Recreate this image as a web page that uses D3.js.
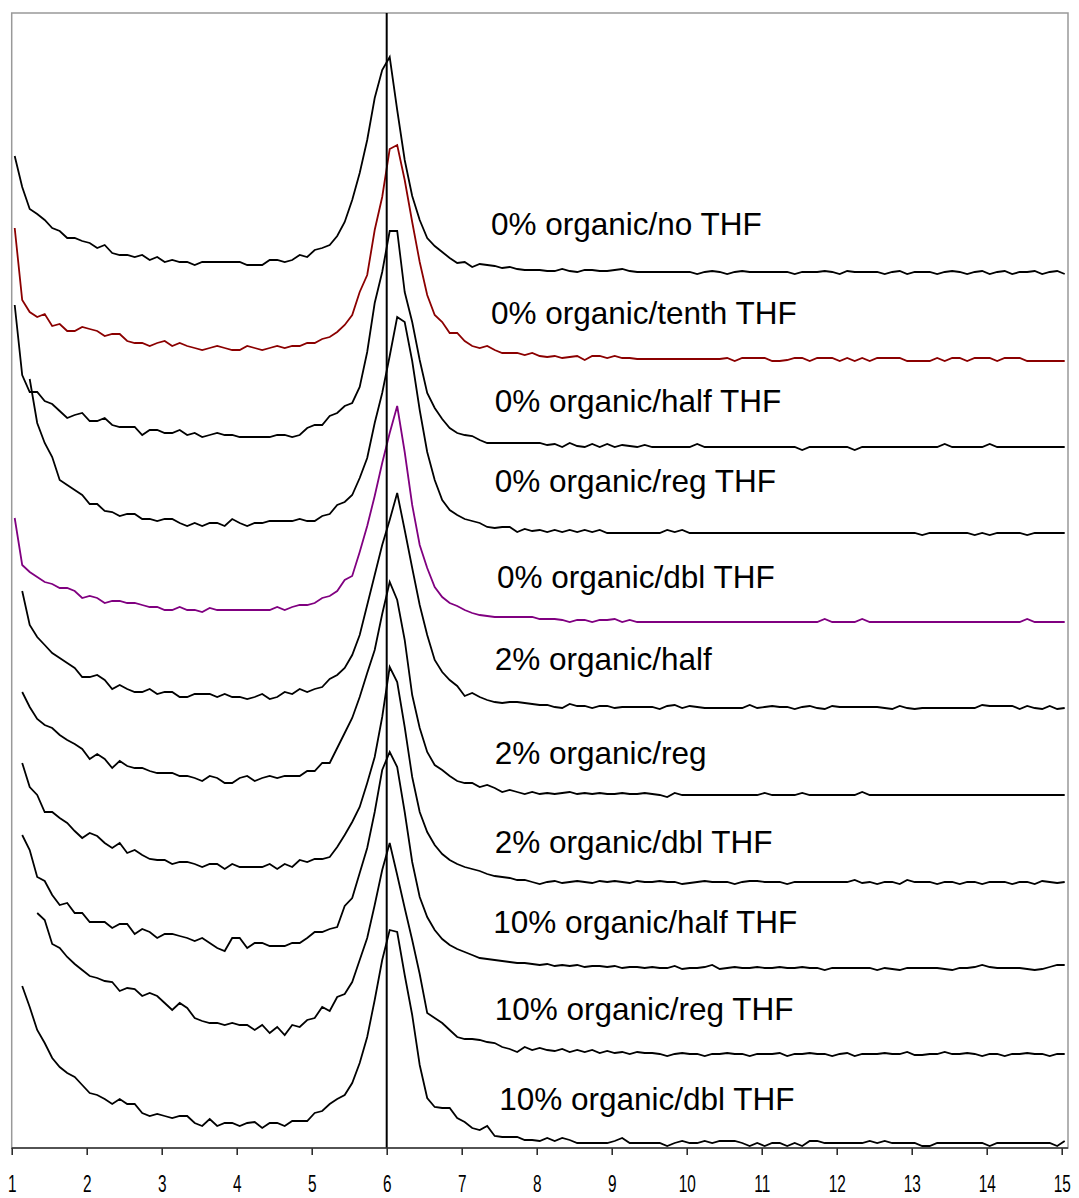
<!DOCTYPE html>
<html>
<head>
<meta charset="utf-8">
<script src="https://cdn.jsdelivr.net/npm/d3@7"></script>
<style>
  body { margin: 0; background: #fff; }
  text { font-family: "Liberation Sans", Arial, sans-serif; }
</style>
</head>
<body>
<svg id="chart" width="1079" height="1198"></svg>
<script>
// run names, top to bottom
var names = ["0% organic/no THF", "0% organic/tenth THF", "0% organic/half THF", "0% organic/reg THF",
  "0% organic/dbl THF", "2% organic/half", "2% organic/reg", "2% organic/dbl THF",
  "10% organic/half THF", "10% organic/reg THF", "10% organic/dbl THF"];
var lineColors = ["#000", "#8b0000", "#000", "#000", "#800080", "#000", "#000", "#000", "#000", "#000", "#000"];

// stacking offset of each trace (signal units)
var offsets = [87.7, 78.9, 70.2, 61.5, 52.6, 44.0, 35.3, 26.6, 18.0, 9.4, 0.8];
// where each name is written: time and height above its trace
var labelAt = [7.39, 7.39, 7.44, 7.44, 7.47, 7.44, 7.44, 7.44, 7.42, 7.44, 7.50];
var labelLift = [3.6, 3.5, 3.4, 4.1, 3.4, 3.8, 3.1, 2.9, 3.5, 3.4, 3.0];

var tickValues = [1, 2, 3, 4, 5, 6, 7, 8, 9, 10, 11, 12, 13, 14, 15];
var markerTime = 6;

// detector signal, sampled every 0.1 min from 1.04 min
var s1 = [11.5, 8.4, 6.2, 5.7, 5.1, 4.3, 4.0, 3.3, 3.3, 3.0,
  2.8, 2.3, 2.6, 1.8, 1.6, 1.6, 1.4, 1.6, 1.1, 1.4,
  0.9, 1.1, 0.9, 0.9, 0.6, 0.9, 0.9, 0.9, 0.9, 0.9,
  0.9, 0.6, 0.6, 0.6, 1.1, 1.1, 0.9, 1.1, 1.6, 1.4,
  2.1, 2.3, 2.6, 3.5, 4.9, 7.1, 9.8, 13.1, 17.3, 20.1,
  21.4, 16.1, 11.1, 7.5, 5.1, 3.3, 2.5, 1.9, 1.3, 0.8,
  0.9, 0.4, 0.7, 0.6, 0.5, 0.3, 0.4, 0.2, 0.1, 0.1,
  0.1, 0, 0, 0.2, 0, -0.1, 0.1, 0.1, 0, 0,
  0.1, 0.2, 0, -0.1, -0.1, -0.1, -0.1, -0.1, -0.1, -0.1,
  -0.1, -0.3, -0.1, 0, -0.1, -0.3, -0.1, 0, -0.1, -0.1,
  -0.1, -0.1, -0.1, -0.1, -0.3, -0.1, -0.1, -0.1, 0, -0.1,
  -0.3, 0, -0.1, -0.1, -0.1, -0.1, -0.3, -0.1, 0, -0.3,
  -0.1, -0.1, -0.1, -0.3, -0.1, 0, -0.1, -0.3, -0.1, 0,
  -0.3, -0.1, 0, -0.3, -0.1, -0.1, 0, -0.3, -0.1, 0,
  -0.3];
var s2 = [13.1, 5.9, 4.7, 4.2, 4.5, 3.3, 3.5, 2.8, 2.8, 3.2,
  3.0, 2.8, 2.3, 2.5, 2.5, 1.8, 1.6, 1.6, 1.3, 1.6,
  1.8, 1.3, 1.6, 1.3, 1.1, 0.9, 1.1, 1.3, 1.1, 0.9,
  0.9, 1.3, 1.1, 0.9, 1.1, 1.3, 1.1, 1.3, 1.3, 1.6,
  1.6, 2.0, 2.2, 2.7, 3.4, 4.4, 6.7, 8.4, 12.9, 16.2,
  21.0, 21.4, 17.9, 13.7, 9.7, 6.4, 4.4, 3.7, 2.6, 2.6,
  1.8, 1.3, 1.1, 1.3, 0.9, 0.6, 0.6, 0.6, 0.4, 0.6,
  0.3, 0.2, 0.3, 0.1, 0.2, 0.3, -0.1, 0.3, 0.3, 0.1,
  0.3, 0.1, 0.1, 0, 0, 0, 0, 0, 0, 0,
  0, 0, 0, 0, 0, 0.1, -0.2, 0.1, 0.1, 0.1,
  0.1, -0.2, -0.2, -0.1, 0.1, 0.1, -0.2, 0.1, 0.1, 0.1,
  -0.2, 0.1, -0.2, 0.1, -0.2, 0.1, 0.1, 0.1, 0.1, -0.2,
  -0.2, -0.2, -0.2, 0.1, -0.2, 0.1, 0.1, -0.2, 0.1, 0.1,
  0.1, -0.2, 0.1, 0.1, 0.1, -0.2, -0.2, -0.2, -0.2, -0.2,
  -0.2];
var s3 = [14.1, 7.1, 5.4, 5.4, 4.5, 4.2, 3.5, 2.8, 3.1, 3.3,
  2.5, 2.5, 2.8, 2.1, 1.9, 1.9, 1.9, 1.1, 1.6, 1.6,
  1.3, 1.3, 1.6, 1.1, 1.3, 0.9, 1.1, 1.3, 1.1, 1.1,
  0.9, 0.9, 0.9, 0.9, 0.9, 1.1, 1.1, 0.9, 1.1, 1.8,
  2.1, 2.1, 3.0, 3.3, 4.0, 4.3, 5.9, 9.4, 14.3, 17.4,
  21.5, 21.5, 15.4, 12.4, 8.6, 5.3, 3.8, 2.7, 1.8, 1.3,
  1.1, 1.0, 0.6, 0.3, 0.3, 0.3, 0.3, 0.3, 0.3, 0.3,
  0.3, 0.1, 0.2, -0.1, 0.3, 0, -0.1, 0.2, -0.1, 0.2,
  -0.1, 0.1, 0, -0.1, 0.1, -0.1, -0.1, -0.1, -0.1, -0.1,
  -0.1, 0.2, -0.1, -0.1, -0.1, -0.1, -0.1, -0.1, -0.1, -0.1,
  -0.1, -0.1, -0.1, -0.1, -0.1, -0.4, -0.1, -0.1, -0.1, -0.1,
  -0.1, -0.1, -0.4, -0.1, -0.1, -0.1, -0.1, -0.1, -0.1, -0.1,
  -0.1, -0.1, -0.1, -0.1, 0.2, -0.1, -0.1, -0.1, -0.1, -0.1,
  0.2, -0.1, -0.1, -0.1, -0.1, -0.1, -0.1, -0.1, -0.1, -0.1,
  -0.1];
var s4 = [null, null, 15.4, 11.0, 9.0, 7.6, 5.3, 4.8, 4.3, 3.8,
  2.9, 2.9, 2.2, 2.1, 1.7, 1.9, 1.9, 1.4, 1.4, 1.2,
  1.4, 1.4, 1.0, 0.7, 1.0, 0.7, 1.0, 1.0, 0.7, 1.4,
  1.0, 0.7, 1.0, 1.0, 1.2, 1.2, 1.2, 1.2, 1.4, 1.2,
  1.2, 1.7, 1.9, 2.8, 3.1, 3.8, 5.5, 7.5, 11.0, 14.0,
  17.7, 21.6, 21.1, 17.2, 12.3, 8.1, 5.3, 3.3, 2.3, 1.8,
  1.4, 1.2, 1.0, 0.6, 0.5, 0.6, 0.6, 0.1, 0.4, 0.2,
  0.3, 0.1, 0.3, 0.1, 0.3, 0.1, 0.3, 0.1, 0.3, 0,
  0, 0, 0, 0, 0, 0, 0, 0.3, 0.1, 0.3,
  0, 0, 0, 0, 0, 0, 0, 0, 0, 0,
  0, 0, 0, 0, 0, 0, 0, 0, 0, 0,
  0, 0, 0, 0, 0, 0, 0, 0, 0, 0,
  0, -0.2, 0, 0, 0, 0, 0, 0, -0.2, 0,
  -0.2, 0, 0, 0, 0, -0.2, 0, 0, 0, 0,
  0];
var s5 = [10.4, 5.7, 5.0, 4.5, 4.0, 3.8, 3.4, 3.4, 3.1, 2.4,
  2.6, 2.4, 1.9, 2.1, 2.1, 1.9, 1.9, 1.7, 1.5, 1.5,
  1.2, 1.2, 1.5, 1.2, 1.2, 1.0, 1.4, 1.2, 1.2, 1.2,
  1.2, 1.2, 1.2, 1.2, 1.2, 1.5, 1.2, 1.5, 1.7, 1.7,
  1.9, 2.4, 2.6, 3.1, 4.2, 4.6, 7.0, 9.6, 12.6, 15.9,
  18.9, 21.6, 17.0, 11.7, 7.7, 5.4, 3.5, 2.5, 1.9, 1.6,
  1.2, 0.9, 0.7, 0.6, 0.5, 0.5, 0.5, 0.5, 0.5, 0.5,
  0.3, 0.3, 0.3, 0.2, 0, 0.2, 0.2, 0, 0.2, 0.2,
  0.3, 0, 0.2, 0, 0, 0, 0, 0, 0, 0,
  0, 0, 0, 0, 0, 0, 0, 0, 0, 0,
  0, 0, 0, 0, 0, 0, 0, 0, 0.3, 0,
  0, 0, 0, 0.3, 0, 0, 0, 0, 0, 0,
  0, 0, 0, 0, 0, 0, 0, 0, 0, 0,
  0, 0, 0, 0, 0, 0.3, 0, 0, 0, 0,
  0];
var s6 = [null, 11.7, 8.3, 7.1, 6.3, 5.5, 5.0, 4.5, 4.0, 3.1,
  3.1, 3.3, 2.8, 1.9, 2.3, 1.9, 1.6, 1.6, 1.9, 1.4,
  1.6, 1.6, 1.1, 1.1, 1.4, 1.4, 1.4, 1.1, 1.4, 1.1,
  1.1, 0.9, 1.1, 1.4, 0.9, 1.1, 1.6, 1.4, 1.9, 1.6,
  1.9, 2.1, 2.9, 3.3, 4.0, 5.3, 7.3, 10.3, 13.3, 16.3,
  18.8, 21.5, 17.8, 14.0, 10.3, 7.3, 4.8, 3.6, 2.8, 2.2,
  1.2, 1.5, 1.1, 0.8, 0.6, 0.5, 0.6, 0.6, 0.5, 0.4,
  0.3, 0.3, 0.1, 0, 0.4, 0.2, 0.2, 0, 0.2, 0.2,
  0, 0.1, 0.1, 0.1, 0.1, 0.1, -0.1, 0.2, 0.3, 0,
  0.2, 0.1, 0, 0, 0, 0, 0, 0, 0.3, 0,
  0.1, 0.2, 0.1, 0.1, -0.1, 0.1, 0.2, 0, -0.1, 0.2,
  0.1, 0.1, 0.1, 0.1, 0.1, 0.1, 0, -0.1, 0.2, 0,
  -0.1, 0, 0, 0, 0, 0, 0, 0, 0, 0.3,
  0.2, 0.2, 0.2, 0.2, -0.1, 0.2, 0, -0.1, 0.2, -0.1,
  0];
var s7 = [null, 10.3, 8.8, 7.6, 7.0, 6.7, 6.0, 5.5, 5.1, 4.6,
  3.6, 4.1, 3.6, 2.7, 3.4, 2.9, 2.7, 2.7, 2.4, 2.2,
  2.2, 2.2, 1.9, 1.9, 1.7, 1.4, 1.9, 1.7, 1.2, 1.2,
  1.7, 1.9, 1.4, 1.7, 1.9, 1.7, 1.9, 1.9, 1.9, 2.4,
  2.4, 3.2, 3.2, 4.7, 6.2, 7.7, 9.8, 12.2, 14.5, 18.1,
  21.3, 19.5, 15.5, 10.0, 6.7, 4.3, 3.0, 2.5, 1.9, 1.4,
  1.2, 1.2, 0.8, 1.0, 0.7, 0.3, 0.5, 0.3, 0.1, 0.3,
  0.1, 0.2, 0.1, 0.2, 0.3, 0.1, 0.2, 0.1, 0.2, 0.1,
  0.1, 0.2, 0.1, 0.1, 0.2, 0.1, 0, -0.2, 0.2, 0,
  0, 0, 0, 0, 0, 0, 0, 0, 0, 0,
  0.2, 0, 0, 0, 0, 0.2, 0, 0, 0, 0,
  0, 0, 0, 0.3, 0, 0, 0, 0, 0, 0,
  0, 0, 0, 0, 0, 0, 0, 0, 0, 0,
  0, 0, 0, 0, 0, 0, 0, 0, 0, 0,
  0];
var s8 = [null, 11.9, 9.5, 8.7, 7.0, 7.0, 6.4, 5.9, 5.1, 4.4,
  4.9, 4.6, 3.9, 3.4, 3.9, 2.9, 3.2, 2.7, 2.3, 2.2,
  2.2, 1.8, 2.0, 2.0, 1.8, 1.5, 1.8, 1.8, 1.3, 1.8,
  1.5, 1.5, 1.5, 1.5, 1.8, 1.3, 1.8, 1.5, 2.2, 2.0,
  2.3, 2.3, 2.5, 3.5, 4.7, 6.0, 7.5, 9.9, 12.5, 16.5,
  21.5, 20.0, 15.5, 10.5, 7.0, 5.0, 3.7, 2.8, 2.2, 1.8,
  1.5, 1.3, 1.1, 0.8, 0.6, 0.5, 0.4, 0.2, 0.2, 0,
  -0.2, 0, 0.1, -0.1, 0, 0.1, 0, -0.1, 0.1, 0,
  0.1, 0, -0.1, 0.1, 0, 0, 0.1, 0, 0, -0.2,
  -0.1, 0, 0.1, 0, 0, 0, -0.2, 0, 0.1, 0.1,
  0, 0, 0, -0.2, 0, 0, 0, 0, 0, 0,
  0, 0, 0.2, -0.1, 0, -0.2, 0, 0, -0.2, 0.2,
  0, 0, 0, -0.2, 0, 0, -0.2, 0, 0, -0.2,
  0, 0, 0, -0.2, 0, 0, -0.2, 0.1, 0, -0.1,
  0];
var s9 = [null, 13.3, 11.8, 9.1, 8.7, 7.3, 6.3, 6.5, 5.5, 5.5,
  4.6, 4.6, 4.6, 4.0, 4.4, 4.4, 3.4, 3.9, 3.6, 3.0,
  3.4, 3.4, 3.2, 3.0, 2.7, 3.0, 2.5, 2.0, 1.7, 3.0,
  3.0, 2.0, 2.5, 2.5, 2.2, 2.2, 2.2, 2.5, 2.5, 3.0,
  3.6, 3.6, 3.9, 4.1, 6.2, 7.0, 9.5, 12.0, 15.6, 19.8,
  21.6, 20.1, 15.6, 10.6, 7.1, 5.1, 3.8, 2.9, 2.3, 1.9,
  1.6, 1.3, 1.0, 0.9, 0.8, 0.7, 0.6, 0.5, 0.5, 0.4,
  0.3, 0.4, 0.2, 0.3, 0.2, 0.3, 0.1, 0.2, 0.2, 0.1,
  0.2, 0, 0.1, 0.1, 0, 0.1, 0, 0, 0.2, -0.1,
  0, 0, 0.1, 0.3, -0.1, 0, 0.1, 0, 0, 0.1,
  0, 0, 0.1, 0, 0, 0.1, 0, 0, -0.2, 0,
  0, 0, 0, 0, 0, -0.2, 0, -0.1, -0.2, 0,
  0, 0, 0, 0, -0.1, -0.2, 0, 0, 0.1, 0.3,
  0.1, 0, 0, 0, 0, -0.1, -0.2, -0.1, 0.1, 0.3,
  0.3];
var s10 = [null, null, null, 14.1, 13.4, 11.0, 10.6, 9.7, 9.0, 8.4,
  7.8, 7.6, 7.3, 7.2, 6.3, 6.6, 6.5, 5.8, 6.1, 5.8,
  5.1, 4.4, 5.1, 4.6, 3.6, 3.3, 3.1, 3.1, 2.9, 3.1,
  2.9, 2.9, 2.4, 2.9, 2.1, 2.7, 1.9, 2.9, 2.7, 3.4,
  3.6, 4.7, 4.3, 5.7, 6.0, 7.2, 9.4, 11.6, 14.9, 18.4,
  21.1, 17.9, 14.6, 11.4, 8.0, 4.1, 3.6, 3.1, 2.4, 1.7,
  1.5, 1.5, 1.4, 1.2, 1.1, 0.7, 0.5, 0.2, 0.7, 0.4,
  0.6, 0.4, 0.3, 0.5, 0.2, 0.4, 0.2, 0.4, 0.1, 0.3,
  0.1, 0.2, 0, 0.2, 0.1, 0.1, 0, -0.2, 0, 0.1,
  0, 0, -0.2, 0, 0, 0.1, 0, 0, -0.2, 0,
  0, 0, 0.1, -0.2, 0, 0, 0.1, 0, 0, -0.2,
  0, 0.1, -0.2, 0, 0, 0, 0.1, 0, 0, 0.2,
  -0.1, -0.1, 0, 0, 0.2, 0, 0, 0.1, 0, -0.2,
  0, 0, -0.2, 0, 0, 0.1, 0, 0, -0.2, 0,
  0];
var s11 = [null, 15.4, 13.3, 11.0, 9.7, 8.2, 7.3, 6.7, 6.3, 5.5,
  4.7, 4.5, 4.1, 3.6, 4.1, 3.6, 3.6, 2.7, 2.4, 2.6,
  2.4, 2.2, 2.4, 2.4, 1.7, 1.4, 2.1, 1.4, 1.7, 1.7,
  1.4, 1.7, 1.8, 1.2, 1.7, 1.7, 1.4, 1.9, 1.9, 1.9,
  2.7, 2.9, 3.6, 4.1, 4.5, 5.7, 7.7, 10.3, 14.0, 18.0,
  21.0, 20.8, 16.5, 12.5, 7.5, 4.2, 3.3, 3.2, 3.2, 2.2,
  1.8, 1.2, 1.0, 1.4, 0.4, 0.3, 0.3, 0.3, 0, 0,
  -0.1, 0.2, -0.1, 0.2, 0, -0.3, -0.3, -0.3, -0.3, -0.3,
  -0.1, 0.2, -0.3, -0.3, -0.3, -0.3, -0.3, -0.6, -0.3, -0.1,
  -0.3, -0.3, -0.1, -0.3, -0.1, -0.1, -0.1, -0.3, -0.6, -0.3,
  -0.6, -0.3, -0.3, -0.6, -0.3, -0.6, -0.1, -0.1, -0.3, -0.3,
  -0.3, -0.3, -0.3, -0.3, -0.1, -0.3, -0.1, -0.3, -0.3, -0.3,
  -0.3, -0.6, -0.6, -0.3, -0.3, -0.3, -0.3, -0.3, -0.3, -0.3,
  -0.6, -0.3, -0.3, -0.3, -0.3, -0.3, -0.3, -0.3, -0.3, -0.6,
  -0.1];

var series = [s1, s2, s3, s4, s5, s6, s7, s8, s9, s10, s11];
var times = s1.map(function (d, i) { return 1.04 + i * 0.1; });

var svg = d3.select("#chart");
var x = d3.scaleLinear().domain([1, 15]).range([11.7, 1061.7]);
var y = d3.scaleLinear().domain([0, 113.5]).range([1148, 13]);
var right = 1068;

// plot frame
svg.append("rect")
  .attr("x", x(1)).attr("y", y(113.5))
  .attr("width", right - x(1)).attr("height", y(0) - y(113.5))
  .attr("fill", "none").attr("stroke", "#999").attr("stroke-width", 1.5);

// traces
series.forEach(function (vals, s) {
  var line = d3.line()
    .defined(function (d) { return d != null; })
    .x(function (d, i) { return x(times[i]); })
    .y(function (d) { return y(d + offsets[s]); });
  svg.append("path")
    .datum(vals)
    .attr("d", line)
    .attr("fill", "none")
    .attr("stroke", lineColors[s])
    .attr("stroke-width", 1.8);
});

// marker at 6 min
svg.append("line")
  .attr("x1", x(markerTime)).attr("x2", x(markerTime))
  .attr("y1", y(113.5)).attr("y2", y(0))
  .attr("stroke", "#000").attr("stroke-width", 2);

// x axis
var axis = svg.append("g")
  .attr("transform", "translate(0," + y(0) + ")")
  .call(d3.axisBottom(x).tickValues(tickValues).tickSize(7).tickSizeOuter(0).tickFormat(d3.format("d")));
axis.select(".domain").remove();
axis.selectAll(".tick line").attr("stroke", "#222").attr("stroke-width", 1.5);
axis.selectAll(".tick text")
  .attr("y", 44).attr("dy", 0)
  .attr("transform", "scale(0.64,1)")
  .style("font-size", "24px")
  .style("font-family", "'Liberation Sans', Arial, sans-serif")
  .attr("fill", "#000");
svg.append("line")
  .attr("x1", x(1)).attr("x2", right)
  .attr("y1", y(0)).attr("y2", y(0))
  .attr("stroke", "#333").attr("stroke-width", 1.5);

// run names
svg.selectAll(".run_label")
  .data(names)
  .enter()
  .append("text")
  .attr("class", "run_label")
  .attr("x", function (d, i) { return x(labelAt[i]); })
  .attr("y", function (d, i) { return y(offsets[i] + labelLift[i]); })
  .style("font-size", "31.5px")
  .attr("fill", "#000")
  .text(function (d) { return d; });
</script>
</body>
</html>
